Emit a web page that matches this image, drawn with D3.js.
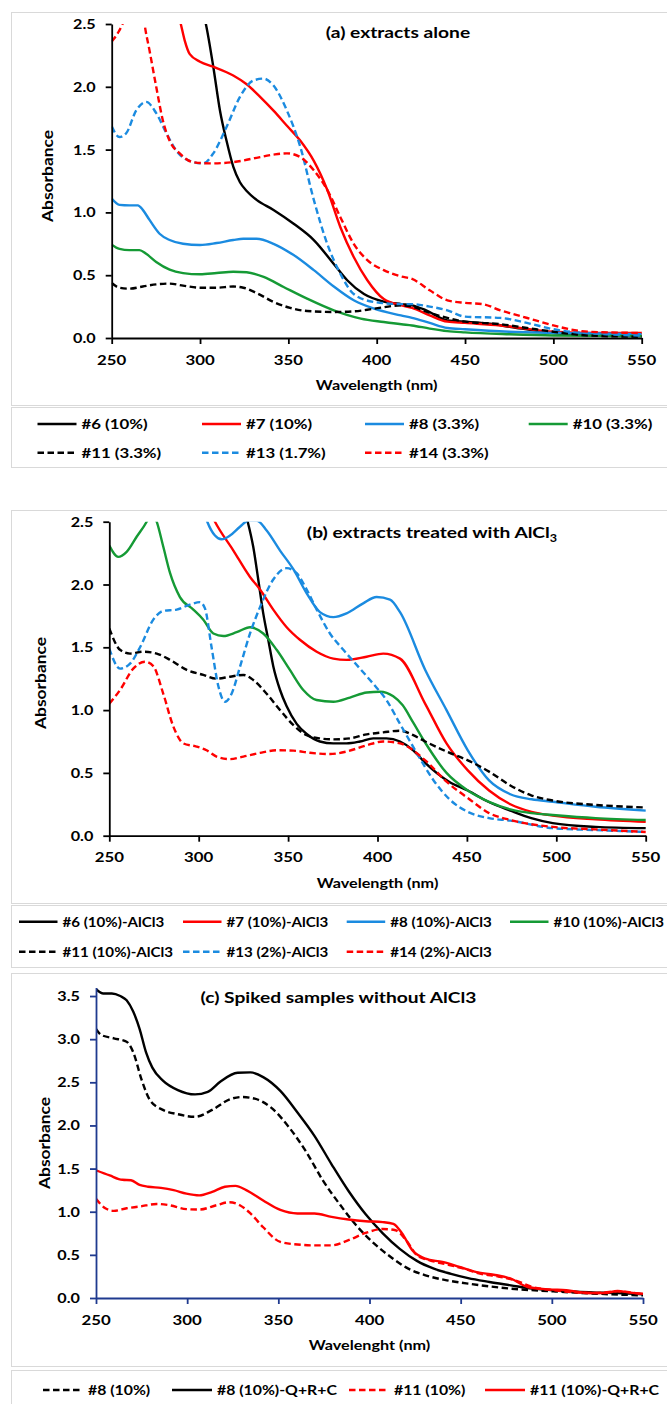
<!DOCTYPE html>
<html>
<head>
<meta charset="utf-8">
<script src="https://cdn.jsdelivr.net/npm/d3@7"></script>
<style>
  body { margin: 0; background: #fff; }
  svg text { font-family: Lato, "Open Sans", sans-serif; font-weight: 700; fill: #000; }
</style>
</head>
<body>
<svg id="fig" width="667" height="1404"></svg>
<script>
// ---------- data: [wavelength (nm), absorbance] ----------
const wavelengthTicks = [250, 300, 350, 400, 450, 500, 550];
const absTicksAB = [0, 0.5, 1.0, 1.5, 2.0, 2.5];
const absTicksC = [0, 0.5, 1.0, 1.5, 2.0, 2.5, 3.0, 3.5];

// (a) extracts alone
const a6 = [[300,2.68],[303.3,2.5],[307.5,2.16],[311.3,1.81],[315,1.57],[318.9,1.36],[322.6,1.24],[326.4,1.17],[332,1.10],[341.6,1.02],[353,0.91],[364.4,0.78],[375.7,0.59],[383.3,0.46],[392.8,0.35],[404,0.29],[414,0.27],[420,0.26],[428,0.22],[440,0.14],[452,0.128],[464,0.114],[476,0.088],[500,0.04],[524,0.02],[550,0.016]];
const a7 = [[285,2.7],[289.1,2.5],[291.3,2.37],[294.2,2.26],[300,2.2],[307.5,2.16],[318.8,2.09],[326.4,2.02],[334,1.92],[341.6,1.81],[349.2,1.69],[356.8,1.57],[364.4,1.41],[372,1.18],[379.5,0.88],[387,0.645],[394.7,0.46],[404,0.31],[414,0.26],[420,0.24],[430,0.18],[440,0.13],[450,0.12],[470,0.10],[500,0.05],[525,0.04],[550,0.04]];
const a8 = [[250,1.11],[254.4,1.06],[260,1.056],[264.8,1.056],[267.6,1.02],[271.4,0.94],[277.1,0.83],[282.8,0.78],[290.4,0.75],[300,0.74],[309.4,0.756],[318.8,0.78],[324.5,0.79],[332,0.79],[341.6,0.75],[353,0.66],[364.4,0.54],[375.7,0.41],[387,0.30],[398.5,0.233],[413.7,0.18],[420,0.16],[430,0.12],[440,0.08],[450,0.07],[475,0.05],[500,0.04],[550,0.03]];
const a10 = [[250,0.743],[254.4,0.71],[260,0.70],[265.7,0.70],[269.5,0.67],[275.2,0.605],[282.8,0.544],[290.4,0.517],[300,0.507],[309.4,0.517],[318.8,0.528],[326.4,0.523],[336,0.486],[347.3,0.406],[360.6,0.313],[375.7,0.22],[391,0.154],[404,0.127],[414,0.109],[420,0.10],[430,0.075],[440,0.055],[450,0.045],[475,0.03],[500,0.02],[550,0.015]];
const a11 = [[250,0.438],[254.4,0.40],[260,0.393],[267.6,0.41],[275.2,0.427],[282.8,0.433],[290.4,0.417],[300,0.40],[309.4,0.40],[318.8,0.41],[324.5,0.40],[332,0.358],[341.6,0.287],[351,0.24],[360.6,0.215],[375.7,0.207],[387,0.212],[398.5,0.233],[413.7,0.26],[420,0.25],[430,0.20],[440,0.16],[450,0.13],[470,0.11],[485,0.08],[500,0.05],[520,0.02],[550,0.01]];
const a13 = [[250,1.685],[254.4,1.60],[258.2,1.63],[263.8,1.81],[269.5,1.88],[275.2,1.79],[281,1.63],[286.6,1.49],[294.2,1.41],[301.8,1.39],[307.5,1.47],[315,1.68],[322.6,1.92],[330.2,2.05],[335.9,2.065],[341.6,2.01],[349.2,1.81],[356.8,1.52],[364.4,1.10],[372,0.75],[379.5,0.51],[387,0.35],[398.5,0.287],[413.7,0.27],[420,0.27],[430,0.25],[440,0.22],[450,0.17],[470,0.16],[485,0.12],[500,0.07],[530,0.03],[550,0.02]];
const a14 = [[250,2.36],[254,2.44],[258,2.56],[262,2.7],[265,2.74],[267.5,2.62],[268.6,2.5],[271.4,2.29],[275.2,2.0],[279,1.73],[282.8,1.57],[288.5,1.47],[296,1.40],[305.6,1.39],[318.8,1.40],[330.2,1.43],[341.6,1.46],[349.2,1.47],[356.8,1.44],[364.4,1.335],[372,1.18],[379.5,0.96],[387,0.75],[394.7,0.62],[404,0.54],[413.7,0.49],[420,0.47],[430,0.38],[440,0.30],[450,0.28],[460,0.27],[470,0.22],[480,0.18],[490,0.14],[500,0.10],[520,0.05],[550,0.04]];

// (b) extracts treated with AlCl3
const b6 = [[325,2.62],[327.4,2.5],[330.5,2.30],[333.3,2.04],[336.1,1.77],[338.9,1.56],[341.7,1.35],[345.5,1.16],[349.2,1.03],[354.8,0.89],[360.4,0.81],[367.8,0.75],[375.3,0.735],[382.7,0.735],[390.2,0.75],[397.6,0.775],[405,0.775],[412.6,0.75],[420,0.68],[426.7,0.58],[440,0.43],[450.5,0.36],[462,0.27],[474.3,0.20],[486,0.14],[498,0.10],[522,0.07],[550,0.06]];
const b7 = [[305,2.62],[309.1,2.5],[319.4,2.27],[328.7,2.06],[334.3,1.96],[341.7,1.80],[349.2,1.66],[356.6,1.56],[366,1.465],[375.3,1.41],[382.7,1.40],[393.9,1.425],[403.2,1.45],[412.6,1.41],[426.7,1.05],[438.6,0.735],[450.5,0.52],[462.4,0.36],[474.3,0.25],[486.2,0.19],[498,0.16],[522,0.13],[550,0.11]];
const b8 = [[302,2.62],[304.8,2.5],[309.1,2.39],[312.8,2.36],[317.5,2.39],[323.1,2.46],[328,2.51],[332.4,2.51],[338,2.43],[345.5,2.27],[353,2.12],[360.4,1.93],[367.8,1.78],[375.3,1.74],[382.7,1.77],[392,1.85],[399.5,1.90],[407,1.88],[412.6,1.78],[426.7,1.32],[438.6,1.0],[450.5,0.68],[462.4,0.44],[474.3,0.33],[486.2,0.29],[498,0.27],[522,0.23],[550,0.20]];
const b10 = [[250,2.31],[255,2.22],[259.7,2.26],[265.3,2.38],[270.9,2.5],[273.7,2.58],[276.5,2.5],[280.2,2.30],[284,2.09],[289.5,1.90],[297,1.80],[302.6,1.72],[308.2,1.61],[313.8,1.59],[321.2,1.62],[328.7,1.66],[336.1,1.61],[343.6,1.48],[351,1.32],[358.5,1.16],[365.9,1.08],[375.3,1.067],[384.6,1.10],[394,1.14],[401.4,1.146],[408.8,1.11],[414,1.04],[420,0.90],[426.7,0.74],[438.6,0.50],[450.5,0.36],[462.4,0.27],[474.3,0.21],[486,0.18],[498,0.165],[522,0.14],[550,0.125]];
const b11 = [[250,1.65],[256,1.48],[261.6,1.45],[269,1.465],[276.5,1.45],[284,1.40],[293.3,1.32],[302.6,1.28],[310,1.25],[317.5,1.266],[325,1.28],[330.5,1.24],[338,1.13],[345.5,1.0],[353,0.88],[360.4,0.80],[367.8,0.775],[375.3,0.767],[384.6,0.775],[394,0.807],[403.2,0.823],[412.6,0.836],[420,0.80],[426.7,0.75],[438.6,0.67],[450.5,0.60],[462.4,0.51],[474.3,0.40],[486.2,0.32],[498,0.28],[522,0.245],[550,0.225]];
const b13 = [[250,1.49],[256,1.33],[261.6,1.37],[267.2,1.50],[274.6,1.72],[280.2,1.79],[287.7,1.80],[295.1,1.84],[300.7,1.86],[303.5,1.81],[307.2,1.50],[311,1.19],[314.7,1.067],[318.4,1.13],[323.1,1.345],[328.7,1.61],[334.3,1.82],[341.7,2.04],[349.2,2.13],[354.8,2.09],[360.4,1.96],[366,1.80],[373.4,1.61],[380.9,1.48],[390.2,1.33],[397.6,1.21],[405,1.08],[412.6,0.89],[421.9,0.66],[431.4,0.44],[441,0.28],[450.5,0.19],[462.4,0.14],[474.3,0.12],[498,0.06],[522,0.045],[550,0.03]];
const b14 = [[250,1.05],[256,1.16],[263.4,1.33],[269.9,1.385],[274.6,1.35],[280.2,1.13],[285.8,0.87],[291.4,0.735],[298.8,0.71],[304.4,0.68],[310,0.63],[317.5,0.61],[325,0.63],[334.3,0.66],[343.6,0.68],[353,0.677],[362.2,0.66],[373.4,0.65],[382.7,0.67],[394,0.72],[403.2,0.75],[412.6,0.735],[426.7,0.60],[438.6,0.43],[450.5,0.30],[462.4,0.18],[474.3,0.125],[498,0.07],[522,0.05],[550,0.03]];

// (c) spiked samples without AlCl3
const c8 = [[250,3.12],[252.8,3.05],[259.8,3.01],[266.8,2.97],[270.4,2.85],[275,2.53],[279.7,2.29],[286.7,2.18],[294.9,2.13],[304.3,2.10],[313.7,2.18],[323,2.30],[330,2.33],[337.1,2.31],[346.4,2.2],[355.8,1.98],[365.1,1.70],[374.5,1.36],[383.9,1.08],[393.2,0.83],[402.6,0.63],[412,0.47],[421.3,0.34],[430.7,0.263],[442.4,0.205],[454.1,0.166],[465.8,0.135],[477.5,0.108],[500.9,0.077],[524.3,0.05],[550,0.03]];
const c8spiked = [[250,3.58],[254,3.53],[258.7,3.53],[263.3,3.50],[266.8,3.45],[270.4,3.32],[273.9,3.12],[277.4,2.85],[280.9,2.67],[286.7,2.52],[294.9,2.41],[304.3,2.36],[311.3,2.39],[318.3,2.51],[327.7,2.61],[334.7,2.615],[341.7,2.56],[351.1,2.40],[360.5,2.15],[369.8,1.88],[379.2,1.55],[388.5,1.24],[397.9,0.97],[407.3,0.75],[416.6,0.57],[426,0.43],[435.3,0.34],[444.7,0.28],[454.1,0.23],[465.8,0.186],[477.5,0.147],[489.2,0.108],[500.9,0.09],[524.3,0.062],[536,0.058],[550,0.043]];
const c11 = [[250,1.15],[255.1,1.04],[259.8,1.01],[266.8,1.04],[273.9,1.06],[283.2,1.09],[290.3,1.075],[299.6,1.03],[306.6,1.025],[316,1.075],[323,1.11],[328.9,1.075],[334.7,0.98],[341.7,0.82],[351.1,0.65],[360.5,0.62],[369.8,0.61],[379.2,0.61],[388.5,0.67],[397.9,0.754],[407.3,0.80],[414.3,0.785],[420.1,0.67],[426,0.495],[433,0.437],[442.4,0.39],[451.7,0.34],[461.1,0.28],[470.5,0.25],[479.8,0.205],[489.2,0.128],[500.9,0.09],[524.3,0.058],[536,0.077],[550,0.043]];
const c11spiked = [[250,1.48],[257.5,1.42],[264.5,1.37],[269.2,1.365],[273.9,1.31],[278.6,1.29],[285.6,1.276],[292.6,1.25],[299.6,1.21],[306.6,1.19],[313.7,1.23],[320.7,1.29],[326.5,1.30],[332.4,1.25],[341.7,1.13],[351.1,1.02],[360.5,0.98],[369.8,0.98],[379.2,0.94],[388.5,0.91],[397.9,0.89],[407.3,0.88],[413.1,0.86],[417.8,0.75],[423.6,0.55],[430.7,0.456],[440,0.418],[449.4,0.36],[458.8,0.30],[468.1,0.27],[477.5,0.224],[486.8,0.128],[498.5,0.10],[507.9,0.09],[519.6,0.058],[529,0.058],[536,0.081],[543,0.062],[550,0.05]];

const namesA = ["#6 (10%)", "#7 (10%)", "#8 (3.3%)", "#10 (3.3%)", "#11 (3.3%)", "#13 (1.7%)", "#14 (3.3%)"];
const namesB = ["#6 (10%)-AlCl3", "#7 (10%)-AlCl3", "#8 (10%)-AlCl3", "#10 (10%)-AlCl3", "#11 (10%)-AlCl3", "#13 (2%)-AlCl3", "#14 (2%)-AlCl3"];
const namesC = ["#8 (10%)", "#8 (10%)-Q+R+C", "#11 (10%)", "#11 (10%)-Q+R+C"];

// ---------- styling ----------
const BLACK = "#000000", RED = "#ff0000", BLUE = "#1b8be0", GREEN = "#159a35", NAVY = "#1f3a8f";
const styleAB = [
  { color: BLACK, dash: false }, { color: RED, dash: false }, { color: BLUE, dash: false },
  { color: GREEN, dash: false }, { color: BLACK, dash: true }, { color: BLUE, dash: true },
  { color: RED, dash: true }
];
const styleC = [
  { color: BLACK, dash: true }, { color: BLACK, dash: false },
  { color: RED, dash: true }, { color: RED, dash: false }
];
const DASH = "6.5,3.5";
const SX = 1.2;          // horizontal stretch of all lettering

const svg = d3.select("#fig");
svg.append("rect").attr("width", 667).attr("height", 1404).attr("fill", "#fff");

function label(g, x, y, str, size, anchor, rotate) {
  return g.append("text")
    .attr("transform", `translate(${x},${y})` + (rotate ? " rotate(-90)" : "") + ` scale(${SX},1)`)
    .attr("text-anchor", anchor || "start")
    .style("font-size", size + "px")
    .text(str);
}

function box(x, y, w, h) {
  svg.append("rect").attr("x", x + 0.5).attr("y", y + 0.5).attr("width", w).attr("height", h)
    .attr("fill", "none").attr("stroke", "#d9d9d9").attr("stroke-width", 1);
}

function drawPanel(p) {
  box(11, p.frameTop, 700, p.frameBottom - p.frameTop);
  const g = svg.append("g");
  const x = d3.scaleLinear().domain([250, 550]).range([p.x0, p.x1]);
  const y = d3.scaleLinear().domain([0, p.ymax]).range([p.y0, p.yMaxPx]);

  const clipId = "clip-" + p.id;
  g.append("clipPath").attr("id", clipId).append("rect")
    .attr("x", p.x0).attr("y", y(p.ymax)).attr("width", p.x1 - p.x0 + 2).attr("height", p.y0 - y(p.ymax));

  const line = d3.line().x(d => x(d[0])).y(d => y(d[1])).curve(d3.curveMonotoneX);
  const plot = g.append("g").attr("clip-path", `url(#${clipId})`);
  p.series.forEach((s, i) => {
    plot.append("path").datum(s).attr("d", line)
      .attr("fill", "none").attr("stroke", p.styles[i].color)
      .attr("stroke-width", 2.4).attr("stroke-linejoin", "round")
      .attr("stroke-dasharray", p.styles[i].dash ? DASH : null);
  });

  // axes
  const yAxis = g.append("g").attr("transform", `translate(${p.x0},0)`)
    .call(d3.axisLeft(y).tickValues(p.yTicks).tickSize(6).tickSizeOuter(0).tickFormat(""));
  const xAxis = g.append("g").attr("transform", `translate(0,${p.y0})`)
    .call(d3.axisBottom(x).tickValues(wavelengthTicks).tickSize(6).tickSizeOuter(0).tickFormat(""));
  [yAxis, xAxis].forEach(a => {
    a.select(".domain").attr("stroke", p.axisColor).attr("stroke-width", 1.8);
    a.selectAll(".tick line").attr("stroke", p.axisColor).attr("stroke-width", 1.8);
  });

  p.yTicks.forEach(v => label(g, p.x0 - 16, y(v) + 5, v.toFixed(1), 13.5, "end"));
  wavelengthTicks.forEach(v => label(g, x(v), p.y0 + p.xLabelDy, String(v), 14, "middle"));
  label(g, (p.x0 + p.x1) / 2, p.xTitleY, p.xTitle, 13.5, "middle");
  label(g, p.yTitleX, p.yTitleY, "Absorbance", 14.5, "middle", true);

  const tt = label(g, p.titleX, p.titleY, p.title, 16, "middle");
  if (p.titleSub) {
    tt.append("tspan").attr("dy", 4).style("font-size", "10.5px").text(p.titleSub);
  }

  // legend
  box(11, p.legendTop, 700, p.legendBottom - p.legendTop);
  p.legend.forEach((item, i) => {
    const st = p.styles[i];
    g.append("line").attr("x1", item.x).attr("x2", item.x + p.legendLine)
      .attr("y1", item.y).attr("y2", item.y)
      .attr("stroke", st.color).attr("stroke-width", 2.5)
      .attr("stroke-dasharray", st.dash ? DASH : null);
    label(g, item.x + p.legendLine + 5, item.y + 5, p.names[i], p.legendFont, "start");
  });
}

function grid(cols, rows, count) {
  const out = [];
  for (let i = 0; i < count; i++) out.push({ x: cols[i % cols.length], y: rows[Math.floor(i / cols.length)] });
  return out;
}

drawPanel({
  id: "a", frameTop: 12, frameBottom: 405, legendTop: 407, legendBottom: 467,
  x0: 111.7, x1: 641.7, y0: 338, yMaxPx: 24, ymax: 2.5, yTicks: absTicksAB, axisColor: BLACK,
  series: [a6, a7, a8, a10, a11, a13, a14], styles: styleAB, names: namesA,
  title: "(a) extracts alone", titleX: 398, titleY: 38,
  xTitle: "Wavelength (nm)", xLabelDy: 27, xTitleY: 390, yTitleX: 53, yTitleY: 176,
  legendLine: 39, legendFont: 14, legend: grid([37.5, 202, 365, 528.7], [424, 452.7], 7)
});

drawPanel({
  id: "b", frameTop: 510, frameBottom: 903, legendTop: 905, legendBottom: 967,
  x0: 109.3, x1: 645.7, y0: 835.7, yMaxPx: 521.7, ymax: 2.5, yTicks: absTicksAB, axisColor: BLACK,
  series: [b6, b7, b8, b10, b11, b13, b14], styles: styleAB, names: namesB,
  title: "(b) extracts treated with AlCl", titleSub: "3", titleX: 432, titleY: 538,
  xTitle: "Wavelength (nm)", xLabelDy: 26, xTitleY: 888, yTitleX: 46, yTitleY: 683,
  legendLine: 38.5, legendFont: 12.6, legend: grid([19, 183, 346.7, 510], [921.7, 951.7], 7)
});

drawPanel({
  id: "c", frameTop: 973, frameBottom: 1366, legendTop: 1370, legendBottom: 1420,
  x0: 96, x1: 643, y0: 1298, yMaxPx: 987.4, ymax: 3.6, yTicks: absTicksC, axisColor: NAVY,
  series: [c8, c8spiked, c11, c11spiked], styles: styleC, names: namesC,
  title: "(c) Spiked samples without AlCl3", titleX: 338.4, titleY: 1003,
  xTitle: "Wavelenght (nm)", xLabelDy: 27, xTitleY: 1350, yTitleX: 50, yTitleY: 1143,
  legendLine: 40, legendFont: 13.2, legend: [{ x: 43, y: 1390 }, { x: 172, y: 1390 }, { x: 349, y: 1390 }, { x: 485, y: 1390 }]
});
</script>
</body>
</html>
